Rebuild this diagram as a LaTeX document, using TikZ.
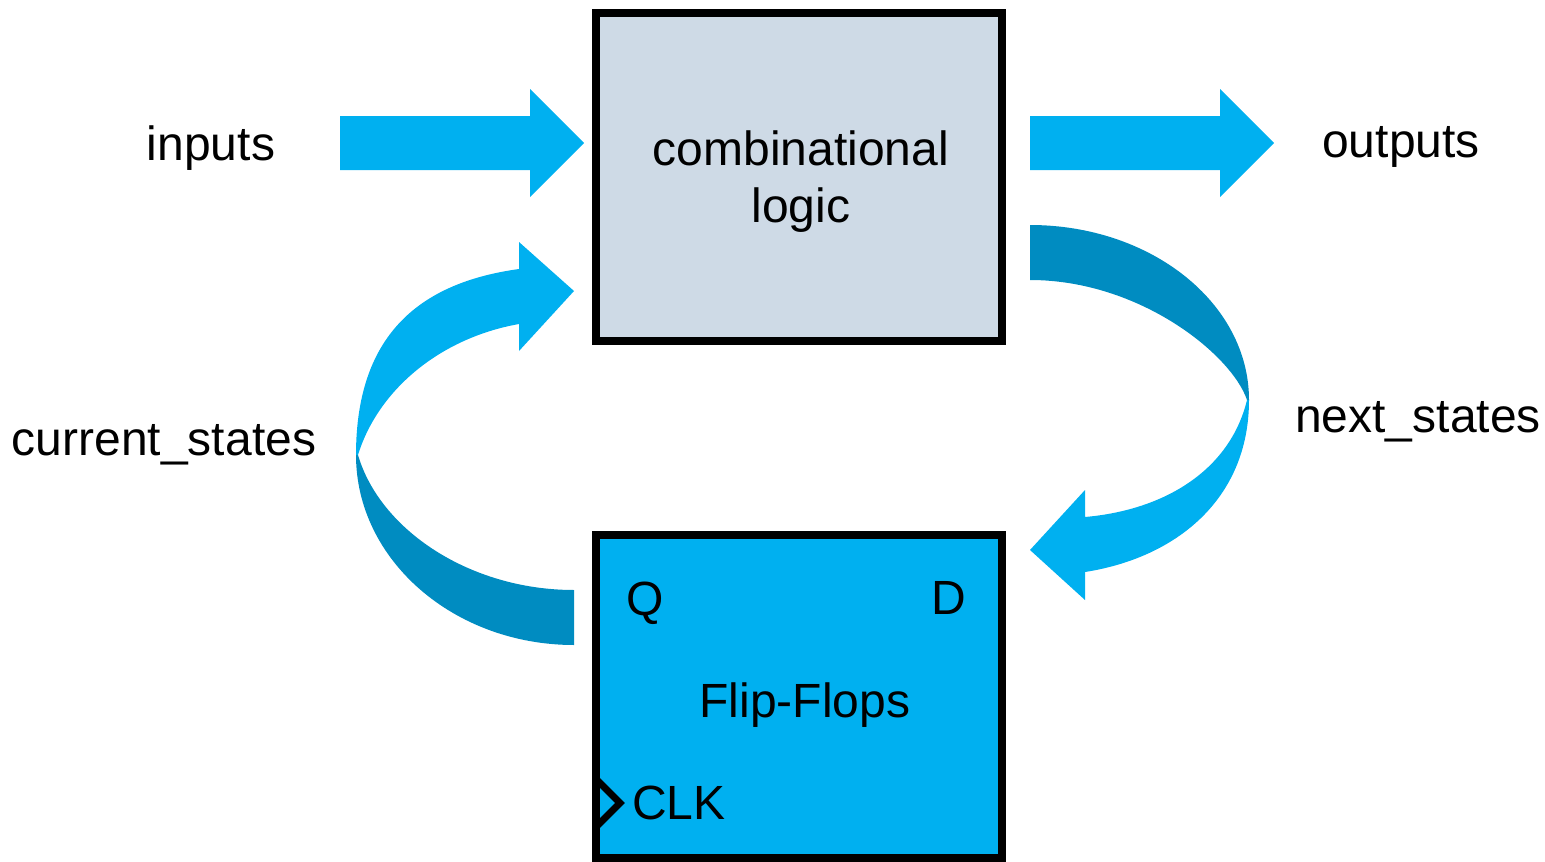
\documentclass[tikz,border=0pt]{standalone}
\usepackage{fontspec}
\setmainfont{Liberation Sans}
\definecolor{flowlight}{HTML}{00B0F0}
\definecolor{flowdark}{HTML}{008CC1}
\definecolor{logicfill}{HTML}{CEDAE6}
\begin{document}
\begin{tikzpicture}[x=1pt,y=-1pt,
  block/.style={draw=black, line width=8pt, minimum width=406pt, inner sep=0pt},
  lbl/.style={font=\fontsize{48}{57}\selectfont, anchor=base, inner sep=0pt}]
\useasboundingbox (0,0) rectangle (1545,862);

% blocks
\node[block, fill=logicfill, minimum height=328pt] (comb) at (799,177) {};
\node[lbl, anchor=center, align=center] (combtext) at (801,182) {combinational\\logic};
\node[block, fill=flowlight, minimum height=323pt] (ff) at (799,696.5) {};
\node[lbl] (q) at (645,615) {Q};
\node[lbl] (d) at (949,614) {D};
\node[lbl] (ffname) at (805,717) {Flip-Flops};
\node[lbl, anchor=base west] (clk) at (632,819) {CLK};
\draw[line width=7pt, miter limit=4] (596,779) -- (620,803) -- (596,827);

% labels
\node[lbl] (inputs) at (211,160) {inputs};
\node[lbl] (outputs) at (1401,157) {outputs};
\node[lbl] (cur) at (164,455) {current\_states};
\node[lbl] (nxt) at (1418,432) {next\_states};

% straight block arrows
\fill[flowlight] (340,116) -- (530,116) -- (530,89) -- (584,143) -- (530,197) -- (530,170) -- (340,170) -- cycle;
\fill[flowlight] (1030,116) -- (1220,116) -- (1220,89) -- (1274,143) -- (1220,197) -- (1220,170) -- (1030,170) -- cycle;

% feedback ribbon: flip-flops back to logic
\fill[flowdark] (356,455) .. controls (356,560) and (454,645) .. (574,645)
  -- (574,590) .. controls (470,590) and (380,530) .. (358,455) -- cycle;
\fill[flowlight] (356,455) .. controls (356,330) and (425,282) .. (519,269)
  -- (519,242) -- (574,291) -- (519,351) -- (519,324)
  .. controls (440,338) and (378,390) .. (358,455) -- cycle;

% forward ribbon: logic to flip-flops
\fill[flowdark] (1030,225) .. controls (1151,225) and (1249,303) .. (1249,400)
  -- (1247,400) .. controls (1232,355) and (1140,280) .. (1030,280) -- cycle;
\fill[flowlight] (1249,400) .. controls (1249,500) and (1175,558) .. (1085,572)
  -- (1085,600) -- (1030,550) -- (1085,490) -- (1085,517)
  .. controls (1165,510) and (1230,470) .. (1247,400) -- cycle;
\end{tikzpicture}
\end{document}
